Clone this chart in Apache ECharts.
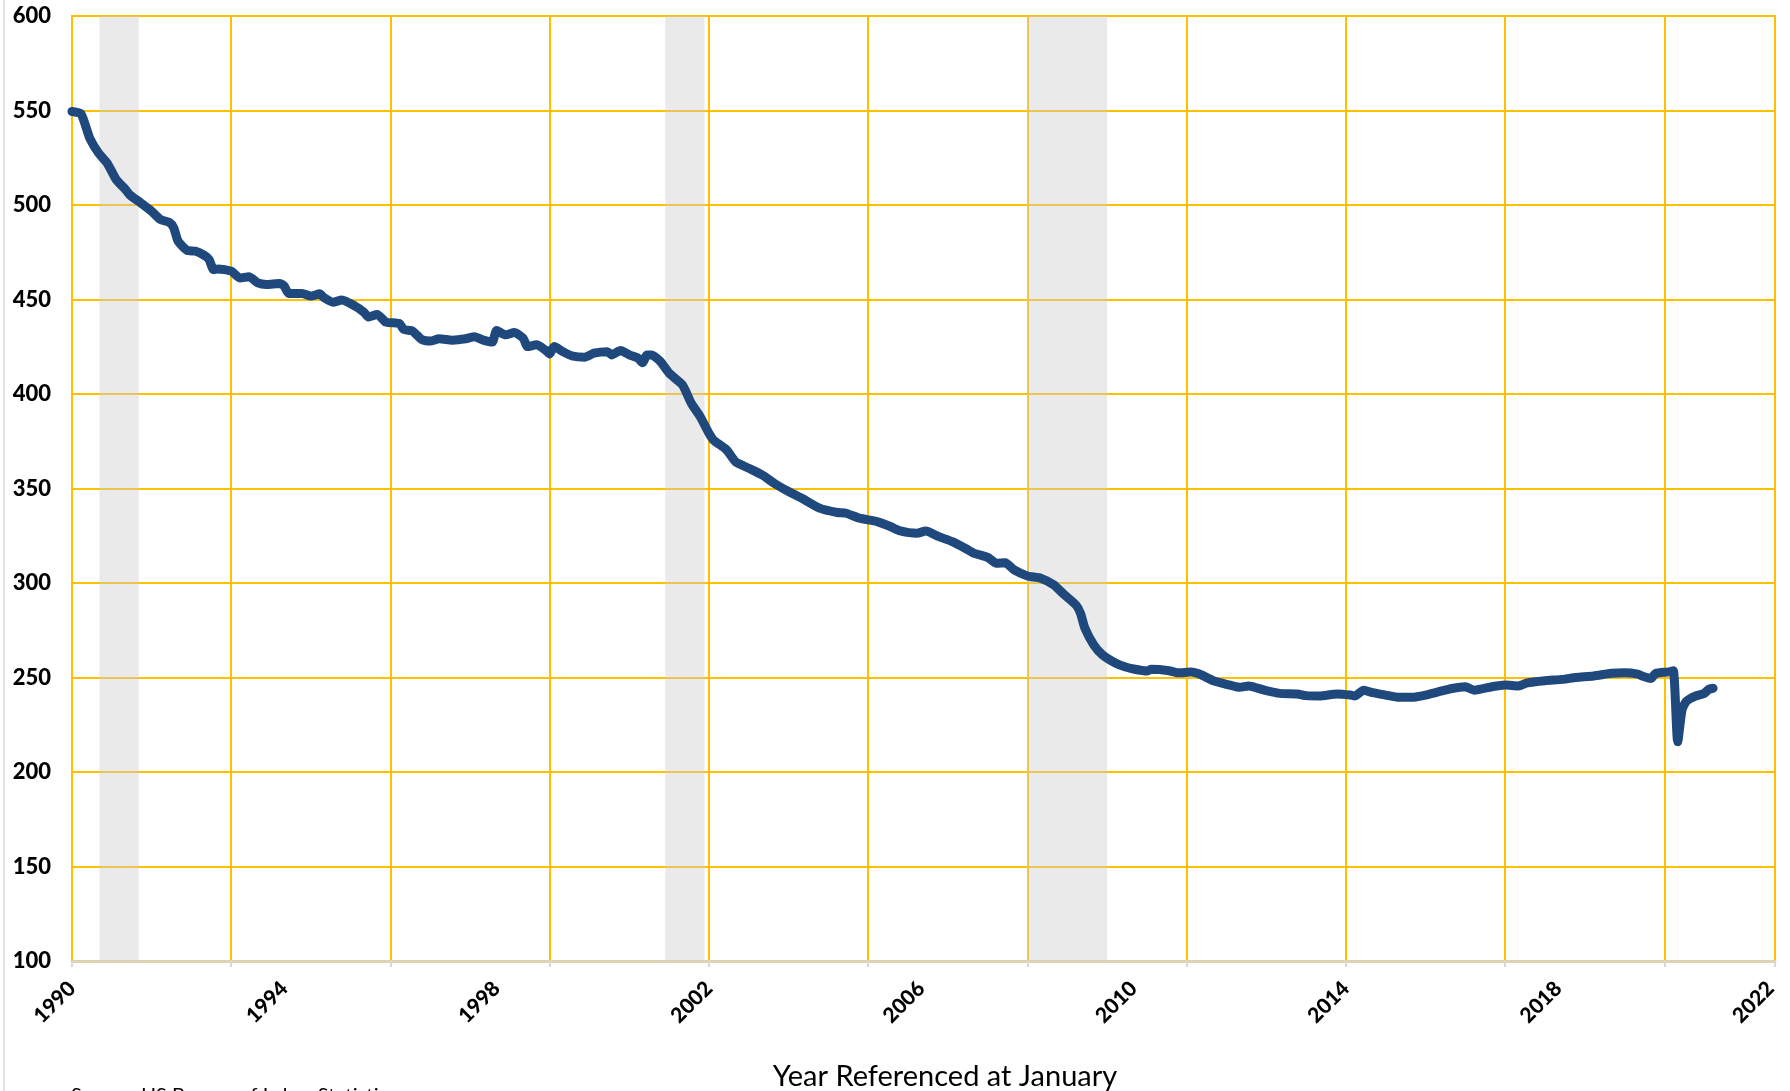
<!DOCTYPE html>
<html>
<head>
<meta charset="utf-8">
<script src="https://cdn.jsdelivr.net/npm/echarts@6/dist/echarts.min.js"></script>
<style>
  html, body { margin: 0; padding: 0; background: #fff; }
  #main { width: 1790px; height: 1091px; }
</style>
</head>
<body>
<div id="main"></div>
<script>
// months counted from January 1990 (0 = Jan 1990)
var monthsSince1990 = [
  0, 2, 3, 4, 6, 8, 10, 12, 13, 15, 18, 20, 22, 23, 24, 26, 28, 30, 31, 32,
  33, 36, 38, 40, 42, 44, 47, 48, 49, 52, 54, 56, 57, 59, 61, 64, 66, 67, 69, 71,
  74, 75, 77, 79, 81, 83, 86, 89, 91, 93, 95, 96, 98, 100, 102, 103, 105, 107, 108, 109,
  111, 113, 116, 118, 121, 122, 124, 126, 128, 129, 130, 131, 133, 135, 138, 140, 142, 144, 145, 148,
  150, 153, 156, 159, 162, 165, 169, 173, 175, 178, 182, 185, 187, 191, 193, 196, 199, 202, 204, 207,
  209, 211, 213, 216, 219, 222, 224, 227, 228, 229, 231, 233, 236, 238, 240, 243, 244, 248, 250, 253,
  255, 258, 261, 264, 266, 270, 273, 277, 279, 282, 286, 289, 290, 292, 294, 297, 300, 303, 306, 309,
  312, 315, 317, 321, 324, 327, 329, 333, 337, 340, 344, 348, 351, 354, 355, 357, 358, 361, 362, 363,
  364, 365, 367, 369, 370, 371
];
var values = [
  549.5, 548.3, 542.4, 535.4, 527.5, 522, 513.4, 508.5, 505.5, 502, 496.7, 492.3, 490.8, 487.9, 480.8, 476, 475.5, 473.2, 471.1, 465.8,
  466.2, 465, 461.4, 462, 458.8, 458, 458.5, 457, 453.2, 453.2, 451.8, 453, 450.9, 448.6, 449.7, 446.5, 443.3, 440.8, 442.1, 438,
  437.3, 434.2, 433.3, 428.9, 428, 429.2, 428.5, 429.2, 430.3, 428.5, 427.5, 433.6, 431.3, 432.5, 429.5, 425.1, 426, 423.3, 421.2, 425.1,
  422.4, 420.2, 419.5, 421.6, 422.4, 420.7, 423, 420.7, 418.9, 416.6, 420.7, 420.7, 417.2, 411, 404.8, 395.1, 388.1, 379.2, 375.7, 370.4,
  364.2, 360.7, 357.2, 352.4, 348.4, 344.8, 339.6, 337.3, 336.9, 334.3, 332.5, 329.9, 327.7, 326.3, 327.5, 324.5, 321.9, 318.3, 315.7, 313.6,
  310.4, 310.7, 306.9, 303.7, 302.5, 298.9, 294.5, 288.3, 283.9, 276, 267.2, 261.9, 257.5, 255.7, 254.5, 253.4, 254.3, 253.6, 252.5, 252.9,
  251.7, 248.3, 246.4, 244.8, 245.5, 243, 241.6, 241.3, 240.4, 240.2, 241.3, 240.7, 240.2, 243.3, 242, 240.7, 239.5, 239.5, 240.7, 242.5,
  244.2, 245.1, 243.3, 245.1, 246, 245.5, 247.2, 248.3, 249, 250, 250.8, 252.2, 252.5, 251.8, 250.8, 249.5, 252.2, 253, 253.6, 216,
  233, 237.5, 240.2, 241.6, 243.7, 244.3
];
// recession periods, in months since Jan 1990
var recessionStart = [6.2, 134.1, 215.9];
var recessionEnd = [15.1, 143.0, 234.0];

var yTicks = { min: 100, max: 600, step: 50 };

var chartDom = document.getElementById('main');
var myChart = echarts.init(chartDom);
var option;

var seriesData = monthsSince1990.map(function (m, i) { return [m, values[i]]; });
var bands = recessionStart.map(function (s, i) {
  return [{ xAxis: s }, { xAxis: recessionEnd[i] }];
});

option = {
  animation: false,
  backgroundColor: '#fff',
  grid: {
    left: 72, top: 16, width: 1703, height: 945,
    show: true, borderColor: '#FFC000', borderWidth: 2,
    containLabel: false, outerBoundsMode: 'none'
  },
  xAxis: [
    {
      type: 'value', position: 'bottom', min: 0, max: 385, interval: 48,
      axisLine: { show: true, onZero: false, lineStyle: { color: '#DDD2B2', width: 3 } },
      axisTick: { show: false },
      splitLine: { show: false },
      axisLabel: {
        rotate: 45, margin: 24, color: '#000',
        fontFamily: 'Lato', fontWeight: 900, fontSize: 21,
        formatter: function (v) { return v % 48 === 0 ? String(1990 + v / 12) : ''; }
      }
    },
    {
      type: 'value', position: 'bottom', min: 0, max: 385, interval: 36,
      axisLine: { show: false, onZero: false },
      axisTick: { show: true, length: 6, lineStyle: { color: '#D9D9D9', width: 2 } },
      axisLabel: { show: false },
      splitLine: { show: true, lineStyle: { color: '#FFC000', width: 2 } }
    }
  ],
  yAxis: {
    type: 'value', min: yTicks.min, max: yTicks.max, interval: yTicks.step,
    axisLine: { show: false },
    axisTick: { show: false },
    axisLabel: { color: '#000', fontFamily: 'Lato', fontWeight: 900, fontSize: 22, margin: 21 },
    splitLine: { lineStyle: { color: '#FFC000', width: 2 } }
  },
  series: [
    {
      type: 'line',
      xAxisIndex: 0,
      data: seriesData,
      showSymbol: false,
      smooth: 0.2,
      lineStyle: { color: '#1F497D', width: 9, cap: 'round', join: 'round' },
      markArea: {
        silent: true,
        itemStyle: { color: 'rgba(205,205,205,0.42)' },
        data: bands
      }
    }
  ],
  graphic: [
    { type: 'line', shape: { x1: 4, y1: 0, x2: 4, y2: 1091 }, style: { stroke: '#D9D9D9', lineWidth: 1.5 } },
    {
      type: 'text', x: 945, y: 1077,
      style: { text: 'Year Referenced at January', font: '29px Lato', fill: '#000', textAlign: 'center', textVerticalAlign: 'middle' }
    },
    {
      type: 'text', x: 71, y: 1086,
      style: { text: 'Source: US Bureau of Labor Statistics', font: '20px Lato', fill: '#000', textAlign: 'left', textVerticalAlign: 'top' }
    }
  ]
};

option && myChart.setOption(option);
</script>
</body>
</html>
